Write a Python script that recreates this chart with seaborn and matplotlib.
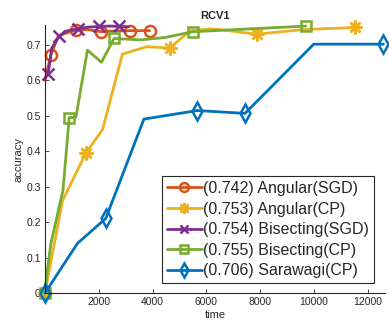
import numpy as np
import pandas as pd
import seaborn as sns
import matplotlib
matplotlib.use("Agg")
import matplotlib.pyplot as plt
from matplotlib.lines import Line2D

# ----------------------------
# data
# ----------------------------
ang_sgd_t = [0, 220, 500, 1170, 1600, 2100, 2600, 3150, 3890]
ang_sgd_acc = [0.60, 0.671, 0.725, 0.742, 0.742, 0.736, 0.738, 0.739, 0.739]
ang_sgd_mk = [1, 3, 5, 7, 8]

ang_cp_t = [0, 650, 1520, 2140, 2880, 3800, 4640, 5400, 6150, 6520, 7880, 9590, 11540]
ang_cp_acc = [0, 0.26, 0.394, 0.46, 0.673, 0.694, 0.69, 0.739, 0.744, 0.742, 0.729, 0.742, 0.748]
ang_cp_mk = [0, 2, 6, 10, 12]

bis_sgd_t = [120, 250, 530, 800, 1210, 1600, 2010, 2400, 2750, 3110]
bis_sgd_acc = [0.618, 0.69, 0.723, 0.738, 0.744, 0.749, 0.751, 0.752, 0.751, 0.750]
bis_sgd_mk = [0, 2, 4, 6, 8]

bis_cp_t = [0, 80, 220, 670, 900, 1150, 1580, 2100, 2570, 3560, 4480, 5500, 9700]
bis_cp_acc = [0, 0.06, 0.14, 0.29, 0.494, 0.495, 0.684, 0.650, 0.717, 0.713, 0.72, 0.736, 0.752]
bis_cp_mk = [0, 4, 8, 11, 12]

sar_cp_t = [0, 1210, 2260, 3680, 5670, 7440, 10000, 12590]
sar_cp_acc = [0, 0.14, 0.21, 0.49, 0.514, 0.506, 0.701, 0.701]
sar_cp_mk = [0, 2, 4, 5, 7]

labels = ["(0.742) Angular(SGD)", "(0.753) Angular(CP)", "(0.754) Bisecting(SGD)",
          "(0.755) Bisecting(CP)", "(0.706) Sarawagi(CP)"]
colors = ["#D95319", "#EDB120", "#7E2F8E", "#77AC30", "#0072BD"]
markers = ["o", (8, 2, 0), "x", "s", "d"]
msizes = [8, 10, 8, 7, 9]

series = [
    (ang_sgd_t, ang_sgd_acc, ang_sgd_mk),
    (ang_cp_t, ang_cp_acc, ang_cp_mk),
    (bis_sgd_t, bis_sgd_acc, bis_sgd_mk),
    (bis_cp_t, bis_cp_acc, bis_cp_mk),
    (sar_cp_t, sar_cp_acc, sar_cp_mk),
]

# ----------------------------
# plot
# ----------------------------
sns.set_style("white")
plt.rcParams["font.family"] = ["Liberation Sans", "DejaVu Sans"]

fig = plt.figure(figsize=(3.89, 3.21), dpi=100)
ax = fig.add_axes([45 / 389, 28 / 321, 340 / 389, 268 / 321])

handles = []
for (t, acc, mk), lab, c, m, ms in zip(series, labels, colors, markers, msizes):
    df = pd.DataFrame({"time": t, "accuracy": acc})
    sns.lineplot(data=df, x="time", y="accuracy", ax=ax, color=c, lw=2,
                 sort=False, estimator=None, marker=m, markevery=mk,
                 markersize=ms, markerfacecolor="none", markeredgecolor=c,
                 markeredgewidth=1.8, clip_on=False)
    handles.append(Line2D([], [], color=c, lw=2, marker=m, markersize=ms * 0.8,
                          markerfacecolor="none", markeredgecolor=c,
                          markeredgewidth=1.8))

ax.set_xlim(0, 12650)
ax.set_ylim(0, 0.755)
ax.set_xticks([2000, 4000, 6000, 8000, 10000, 12000])
ax.set_yticks([0, 0.1, 0.2, 0.3, 0.4, 0.5, 0.6, 0.7])
ax.set_yticklabels(["0", "0.1", "0.2", "0.3", "0.4", "0.5", "0.6", "0.7"])

for s in ["top", "right"]:
    ax.spines[s].set_visible(False)
for s in ["left", "bottom"]:
    ax.spines[s].set_color("#262626")
    ax.spines[s].set_linewidth(0.8)
ax.tick_params(direction="in", length=3, width=0.6, colors="#262626",
               labelsize=7.5, pad=3)
ax.tick_params(axis="both", which="both", bottom=True, left=True)

ax.set_title("RCV1", fontsize=8, fontweight="bold", pad=4)
ax.set_xlabel("time", fontsize=8, labelpad=2)
ax.set_ylabel("accuracy", fontsize=8, labelpad=2)

leg = ax.legend(handles, labels, loc="lower right", bbox_to_anchor=(0.968, 0.037),
                fontsize=11.5, frameon=True, fancybox=False, framealpha=1,
                edgecolor="#262626", handlelength=2.2, handletextpad=0.1,
                labelspacing=0.35, borderpad=0.3, borderaxespad=0)
leg.get_frame().set_linewidth(0.8)

fig.savefig("out.png", dpi=100)
